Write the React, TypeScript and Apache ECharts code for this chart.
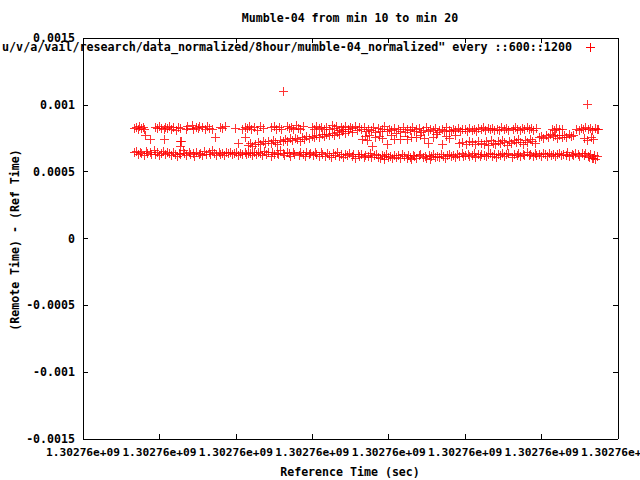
import React, { useEffect, useRef } from "react";
import * as echarts from "echarts";

// Title / labels
const chartTitle = "Mumble-04 from min 10 to min 20";
const keyLabel =
  'u/v/a/vail/research/data_normalized/8hour/mumble-04_normalized" every ::600::1200';
const xAxisTitle = "Reference Time (sec)";
const yAxisTitle = "(Remote Time) - (Ref Time)";
const xTickLabel = "1.30276e+09";

// Axis ranges (x in seconds from an offset, y in seconds)
const xMin = 0;
const xMax = 700;
const xStep = 100;
const yMin = -0.0015;
const yMax = 0.0015;
const yStep = 0.0005;

// Data: [seconds, offset in microseconds]
const lowerBand: [number, number][] = [
  [68,640],[70,652],[72,628],[75,645],[77,636],[80,622],[83,648],[85,633],[88,641],[90,625],[93,660],[95,630],[98,644],[100,619],[103,637],[105,648],[108,627],[110,640],[113,633],[116,622],[118,646],[121,631],[123,612],[126,639],[128,626],[131,658],[133,634],[136,620],[139,642],[141,629],[144,637],[146,615],[149,645],[152,628],[154,636],[157,621],[159,648],[162,632],[165,640],[167,625],[170,661],[172,634],[175,619],[178,643],[180,630],[183,638],[185,624],[188,647],[191,633],[193,641],[196,627],[198,635],[201,644],[204,622],[206,637],[209,630],[212,646],[214,626],[217,639],[219,633],[222,619],[225,645],[227,628],[230,641],[232,636],[235,623],[238,648],[240,631],[243,640],[246,617],[248,644],[251,629],[254,637],[256,625],[259,657],[262,633],[264,621],[267,642],[270,635],[272,615],[275,646],[277,628],[280,639],[283,622],[285,641],[288,631],[291,612],[293,645],[296,627],[298,636],[301,619],[304,640],[306,626],[309,610],[312,643],[314,629],[317,617],[320,638],[322,624],[325,606],[328,635],[330,620],[333,641],[336,613],[338,628],[341,604],[344,632],[346,619],[349,637],[352,610],[354,625],[357,600],[360,631],[362,616],[365,627],[368,605],[370,622],[373,612],[376,633],[378,603],[381,619],[384,626],[386,608],[389,598],[392,621],[394,611],[395,588],[397,629],[400,604],[402,616],[405,596],[408,624],[410,609],[413,618],[416,601],[418,627],[421,612],[424,595],[426,620],[429,606],[430,590],[432,624],[434,613],[437,600],[440,618],[442,626],[445,607],[448,615],[450,598],[453,622],[455,592],[456,611],[458,628],[461,603],[464,617],[466,609],[469,625],[472,614],[474,600],[477,621],[480,630],[482,612],[485,619],[488,605],[490,627],[493,616],[496,633],[498,610],[501,624],[504,631],[506,613],[509,620],[512,637],[514,608],[517,626],[520,615],[522,632],[525,619],[528,611],[530,628],[533,636],[536,617],[538,625],[541,609],[544,630],[546,620],[549,638],[552,614],[554,626],[557,633],[560,618],[562,607],[565,629],[568,622],[570,635],[573,612],[576,627],[578,619],[581,640],[584,624],[586,631],[589,615],[592,636],[594,621],[597,628],[600,613],[602,634],[605,625],[608,617],[610,638],[613,622],[616,630],[618,610],[621,627],[624,635],[626,619],[629,632],[632,624],[634,640],[637,616],[640,629],[642,621],[645,636],[648,626],[650,613],[653,633],[656,620],[658,638],[661,612],[663,604],[664,628],[666,600],[668,596],[669,624],[671,592],[673,615]
];

const upperBand: [number, number][] = [
  [68,826],[70,833],[72,818],[74,837],[77,822],[79,829],[81,812],[95,831],[97,820],[100,836],[103,824],[106,815],[108,833],[111,822],[113,839],[116,818],[119,828],[122,810],[125,834],[128,823],[135,819],[137,838],[140,826],[143,842],[145,815],[148,832],[151,821],[153,840],[157,828],[160,818],[163,836],[166,824],[169,813],[180,831],[183,820],[186,837],[200,826],[209,816],[212,833],[215,822],[218,841],[221,817],[224,830],[228,811],[232,835],[236,821],[247,828],[250,838],[253,815],[257,831],[260,819],[267,840],[270,823],[273,833],[276,812],[279,844],[282,826],[285,816],[288,835],[300,830],[303,817],[306,839],[309,821],[312,833],[316,812],[319,828],[323,818],[326,843],[329,824],[332,835],[335,809],[338,829],[341,817],[344,838],[347,813],[350,831],[353,820],[356,840],[359,810],[362,827],
  [365,815],[368,828],[371,800],[374,819],[377,808],[380,830],[383,792],[386,822],[389,803],[392,813],[395,835],[398,797],[401,819],[404,806],[407,826],[410,788],[413,814],[416,802],[419,832],[422,795],[425,817],[428,808],[431,827],[434,799],[437,812],[440,822],[443,790],[446,809],[449,829],[452,801],[455,815],[458,806],[461,824],[464,796],[467,811],[470,818],[473,803],[476,827],[479,810],[482,797],[485,816],[488,806],[491,823],[494,800],[497,813],[500,819],[503,804],[506,824],[509,811],[512,817],[515,802],[518,821],
  [521,813],[524,828],[527,808],[530,820],[533,812],[536,826],[539,806],[542,818],[545,811],[548,829],[551,815],[554,822],[557,809],[560,825],[563,814],[566,831],[569,817],[572,807],[575,821],[578,812],[581,827],[584,815],[587,820],[590,810],[593,824],[614,816],[617,808],[620,822],[623,813],[627,818],[646,817],[649,810],[652,824],[655,814],[658,829],[661,812],[664,820],[667,808],[670,826],[673,813],[675,818]
];

const middleBand: [number, number][] = [
  [82,774],[88,737],[107,744],[127,685],[128,729],[129,722],[173,752],[203,707],[213,752],
  [216,697],[219,712],[222,690],[226,705],[229,718],[232,700],[236,722],[239,708],[243,726],[246,713],[249,731],[252,719],[255,704],[258,735],[262,724],[265,741],[268,728],[271,745],[274,733],[278,750],[281,737],[284,722],[287,756],[290,742],[293,760],[297,748],[300,765],[303,752],[306,771],[310,757],[313,776],[316,763],[319,781],[322,768],[326,787],[329,774],[333,792],[336,779],[340,798],[344,785],[348,801],[352,790],
  [366,742],[369,760],[372,735],[375,770],[379,688],[383,755],[388,766],[392,748],[398,702],[403,772],[408,738],[416,738],[420,765],[425,741],[430,752],[436,753],[442,768],[447,745],[452,712],[458,758],[463,779],[470,706],[475,762],[480,749],[487,773],[493,712],[497,720],[502,705],[506,724],[510,716],[514,702],[518,728],[521,713],
  [525,706],[528,722],[531,698],[534,731],[537,714],[540,703],[543,727],[546,710],[549,736],[552,718],[555,695],[558,724],[561,709],[564,730],[567,716],[570,739],[573,721],[576,702],[579,733],[582,715],[585,742],[588,727],[592,712],
  [597,752],[600,766],[603,748],[606,771],[609,757],[612,776],[615,760],[618,769],[621,749],[624,773],[627,758],[630,767],[633,754],[636,778],[639,761],[642,770],
  [656,745],[660,733],[665,756],[668,740]
];

const outliers: [number, number][] = [
  [262,1100],[660,1000]
];

const PLUS = "path://M4,0H5V4H9V5H5V9H4V5H0V4H4Z";
const FONT = "DejaVu Sans Mono";
const RED = "#ff0000";

export default function App() {
  const ref = useRef<HTMLDivElement>(null);
  useEffect(() => {
    if (!ref.current) return;
    const chart = echarts.init(ref.current, undefined, { renderer: "svg" });
    const points = [...lowerBand, ...upperBand, ...middleBand, ...outliers].map(
      ([t, us]) => [t, us / 1e6]
    );
    const txt = { color: "#000", fontFamily: FONT, fontSize: 11.6, fontWeight: "bold" as const };
    const xCommon = {
      type: "value" as const,
      min: xMin,
      max: xMax,
      interval: xStep,
      splitLine: { show: false },
      axisLine: { show: true, onZero: false, lineStyle: { color: "#000", width: 1 } },
      axisTick: { show: true, inside: true, length: 5, lineStyle: { color: "#000" } },
    };
    const yCommon = {
      type: "value" as const,
      min: yMin,
      max: yMax,
      interval: yStep,
      splitLine: { show: false },
      axisLine: { show: true, onZero: false, lineStyle: { color: "#000", width: 1 } },
      axisTick: { show: true, inside: true, length: 5, lineStyle: { color: "#000" } },
    };
    chart.setOption({
      animation: false,
      backgroundColor: "#fff",
      grid: { left: 83, right: 22, top: 38, bottom: 41, containLabel: false, outerBoundsMode: "none" },
      xAxis: [
        {
          ...xCommon,
          position: "bottom",
          axisLabel: {
            ...txt,
            fontSize: 11.2,
            margin: 8,
            hideOverlap: false,
            formatter: () => xTickLabel,
          },
        },
        { ...xCommon, position: "top", axisLabel: { show: false } },
      ],
      yAxis: [
        {
          ...yCommon,
          position: "left",
          axisLabel: {
            ...txt,
            margin: 8,
            formatter: (v: number) => String(Number(v.toFixed(4))),
          },
        },
        { ...yCommon, position: "right", axisLabel: { show: false } },
      ],
      graphic: [
        {
          type: "text",
          x: 350,
          y: 18,
          style: { text: chartTitle, align: "center", verticalAlign: "middle", fill: "#000", font: `bold 11.6px "${FONT}"` },
        },
        {
          type: "text",
          x: 572,
          y: 47,
          style: { text: keyLabel, align: "right", verticalAlign: "middle", fill: "#000", font: `bold 11.7px "${FONT}"` },
        },
        { type: "line", shape: { x1: 585.5, y1: 47.5, x2: 594.5, y2: 47.5 }, style: { stroke: RED, lineWidth: 1 } },
        { type: "line", shape: { x1: 590, y1: 43, x2: 590, y2: 52 }, style: { stroke: RED, lineWidth: 1 } },
        {
          type: "text",
          x: 350,
          y: 472,
          style: { text: xAxisTitle, align: "center", verticalAlign: "middle", fill: "#000", font: `bold 11.6px "${FONT}"` },
        },
        {
          type: "text",
          x: 15,
          y: 240,
          rotation: Math.PI / 2,
          style: { text: yAxisTitle, align: "center", verticalAlign: "middle", fill: "#000", font: `bold 11.6px "${FONT}"` },
        },
      ],
      series: [
        {
          type: "scatter",
          name: keyLabel,
          xAxisIndex: 0,
          yAxisIndex: 0,
          symbol: PLUS,
          symbolSize: 9,
          itemStyle: { color: RED },
          data: points,
        },
      ],
    });
    return () => chart.dispose();
  }, []);
  return (
    <>
      <style>{`#gp-chart svg path { shape-rendering: crispEdges; }`}</style>
      <div
        id="gp-chart"
        ref={ref}
        style={{ position: "fixed", left: 0, top: 0, width: 640, height: 480, background: "#fff" }}
      />
    </>
  );
}
